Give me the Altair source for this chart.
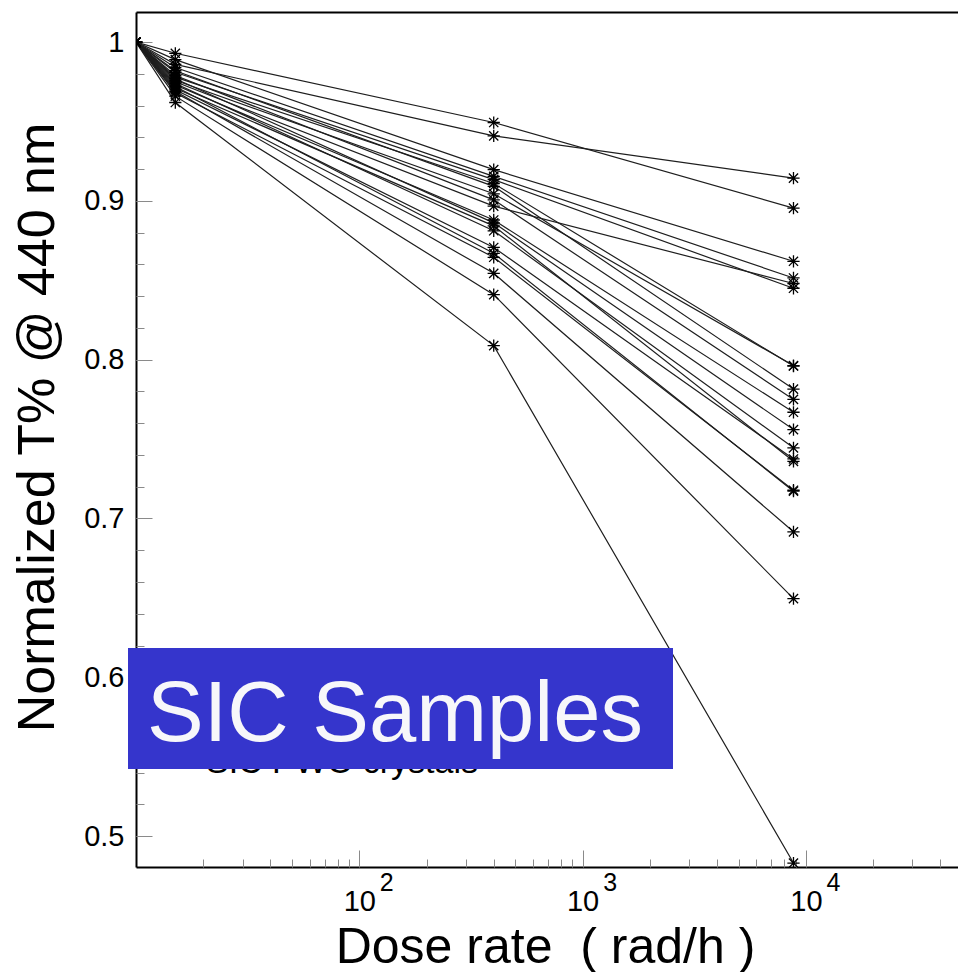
import altair as alt
import pandas as pd

# ---------------- data ----------------
DOSE = [10, 15, 400, 8800]
T_AT_10 = [1.0] * 20
T_AT_15 = [0.993, 0.986, 0.989, 0.984, 0.981, 0.978, 0.982, 0.976, 0.979, 0.975,
           0.973, 0.977, 0.971, 0.974, 0.970, 0.972, 0.968, 0.969, 0.966, 0.962]
T_AT_400 = [0.9494, 0.9410, 0.9197, 0.9155, 0.9134, 0.9110, 0.9092, 0.9045, 0.9007, 0.8967,
            0.8880, 0.8862, 0.8843, 0.8812, 0.8707, 0.8670, 0.8645, 0.8544, 0.8410, 0.8089]
T_AT_8800 = [0.8955, 0.9144, 0.8620, 0.8515, 0.8450, 0.7960, 0.7815, 0.7963, 0.7750, 0.8480,
             0.7669, 0.7560, 0.7360, 0.7445, 0.7375, 0.7172, 0.7178, 0.6916, 0.6495, 0.4830]

X_MAJOR = [100, 1000, 10000]
X_MINOR = [20, 30, 40, 50, 60, 70, 80, 90,
           200, 300, 400, 500, 600, 700, 800, 900,
           2000, 3000, 4000, 5000, 6000, 7000, 8000, 9000,
           20000, 30000, 40000]
Y_MAJOR = [0.5, 0.6, 0.7, 0.8, 0.9, 1.0]
Y_MINOR = [0.5, 0.52, 0.54, 0.56, 0.58, 0.6, 0.62, 0.64, 0.66, 0.68, 0.7, 0.72, 0.74,
           0.76, 0.78, 0.8, 0.82, 0.84, 0.86, 0.88, 0.9, 0.92, 0.94, 0.96, 0.98, 1.0]

X_TITLE = "Dose rate\u00a0 ( rad/h )"
Y_TITLE = "Normalized T% @ 440 nm"
BOX_LABEL = ["SIC Samples"]
HIDDEN_LABEL = ["SIC PWO crystals"]

rows = []
for i in range(len(T_AT_15)):
    vals = [T_AT_10[i], T_AT_15[i], T_AT_400[i], T_AT_8800[i]]
    for d, v in zip(DOSE, vals):
        rows.append({"series": f"s{i+1}", "dose": d, "t": v})
df = pd.DataFrame(rows)

FONT = "Liberation Sans"
W, H = 822, 855
STAR = "M0,-1L0,1M-1,0L1,0M-0.75,-0.75L0.75,0.75M-0.75,0.75L0.75,-0.75"

xscale = alt.Scale(type="log", domain=[10, 48000], nice=False)
yscale = alt.Scale(domain=[0.4805, 1.019], nice=False, zero=False)

# x axes
ax_main = alt.Axis(orient="bottom", values=X_MAJOR, labelExpr="'10'", ticks=False, tickSize=0,
                   domain=True, domainColor="black", domainWidth=2, grid=False,
                   labelFont=FONT, labelFontSize=29, labelColor="black",
                   labelBaseline="alphabetic", labelPadding=43, labelAlign="center",
                   labelFlush=False, labelOverlap=False,
                   title=X_TITLE, titleFont=FONT, titleFontSize=50, titleFontWeight="normal",
                   titleColor="black", titleX=409, titleY=95, titleAlign="center",
                   titleBaseline="alphabetic")
ax_exp = alt.Axis(orient="bottom", values=X_MAJOR,
                  labelExpr="'' + round(log(datum.value) / LN10)",
                  ticks=False, tickSize=0, domain=False, grid=False,
                  labelFont=FONT, labelFontSize=25, labelColor="black",
                  labelBaseline="alphabetic", labelPadding=23, labelOffset=27, labelAlign="center",
                  labelFlush=False, labelOverlap=False, title=None)
ax_xmaj = alt.Axis(orient="top", offset=-H, values=X_MAJOR, tickSize=17, tickColor="#8a8a8a",
                   tickWidth=1, labels=False, domain=False, grid=False, title=None)
ax_xmin = alt.Axis(orient="top", offset=-H, values=X_MINOR, tickSize=8, tickColor="#8a8a8a",
                   tickWidth=1, labels=False, domain=False, grid=False, title=None)
ax_top = alt.Axis(orient="top", values=X_MAJOR, ticks=False, labels=False, domain=True,
                  domainColor="black", domainWidth=2, grid=False, title=None)

# y axes
ay_main = alt.Axis(orient="left", values=Y_MAJOR,
                   labelExpr="datum.value == 1 ? '1' : format(datum.value, '.1f')",
                   ticks=False, tickSize=0, domain=True, domainColor="black", domainWidth=2,
                   grid=False, labelFont=FONT, labelFontSize=29, labelColor="black",
                   labelPadding=12, labelBaseline="middle", labelFlush=False, labelOverlap=False,
                   title=Y_TITLE, titleFont=FONT, titleFontSize=52, titleFontWeight="normal",
                   titleColor="black", titleX=-83, titleY=415, titleAlign="center",
                   titleBaseline="alphabetic", titleAngle=270)
ay_maj = alt.Axis(orient="right", offset=-W, values=Y_MAJOR, tickSize=16, tickColor="#8a8a8a",
                  tickWidth=1, labels=False, domain=False, grid=False, title=None)
ay_min = alt.Axis(orient="right", offset=-W, values=Y_MINOR, tickSize=8, tickColor="#8a8a8a",
                  tickWidth=1, labels=False, domain=False, grid=False, title=None)

base = alt.Chart(df)

lines = base.mark_line(color="#1e1e1e", strokeWidth=1.2, clip=True).encode(
    x=alt.X("dose:Q", scale=xscale, axis=ax_main),
    y=alt.Y("t:Q", scale=yscale, axis=ay_main),
    detail="series:N",
)
points = base.mark_point(shape=STAR, size=150, filled=False, color="black",
                         strokeWidth=1.3, opacity=1, clip=True).encode(
    x=alt.X("dose:Q", scale=xscale, axis=ax_top),
    y=alt.Y("t:Q", scale=yscale, axis=ay_maj),
)
g1 = base.mark_point(opacity=0).encode(
    x=alt.X("dose:Q", scale=xscale, axis=ax_exp),
    y=alt.Y("t:Q", scale=yscale, axis=ay_min),
)
g2 = base.mark_point(opacity=0).encode(
    x=alt.X("dose:Q", scale=xscale, axis=ax_xmaj),
    y=alt.Y("t:Q", scale=yscale, axis=None),
)
g3 = base.mark_point(opacity=0).encode(
    x=alt.X("dose:Q", scale=xscale, axis=ax_xmin),
    y=alt.Y("t:Q", scale=yscale, axis=None),
)

hidden = alt.Chart(pd.DataFrame({"label": HIDDEN_LABEL})).mark_text(
    font=FONT, fontSize=34, color="black", align="left", baseline="alphabetic"
).encode(text="label:N", x=alt.value(70), y=alt.value(761))

box = alt.Chart(pd.DataFrame({"label": BOX_LABEL})).mark_rect(color="#3535CC").encode(
    x=alt.value(-8), x2=alt.value(537), y=alt.value(636), y2=alt.value(757)
)
box_text = alt.Chart(pd.DataFrame({"label": BOX_LABEL})).mark_text(
    font=FONT, fontSize=85, color="#F7F7FA", align="left", baseline="alphabetic"
).encode(text="label:N", x=alt.value(11), y=alt.value(729))

chart = alt.layer(lines, points, g1, g2, g3, hidden, box, box_text).resolve_axis(
    x="independent", y="independent"
).properties(
    width=W, height=H,
    padding={"left": 136, "top": 12, "right": 0, "bottom": 105},
    autosize=alt.AutoSizeParams(type="none"),
).configure_view(stroke=None)

chart.save("out.html", embed_options={"renderer": "svg", "actions": False})
